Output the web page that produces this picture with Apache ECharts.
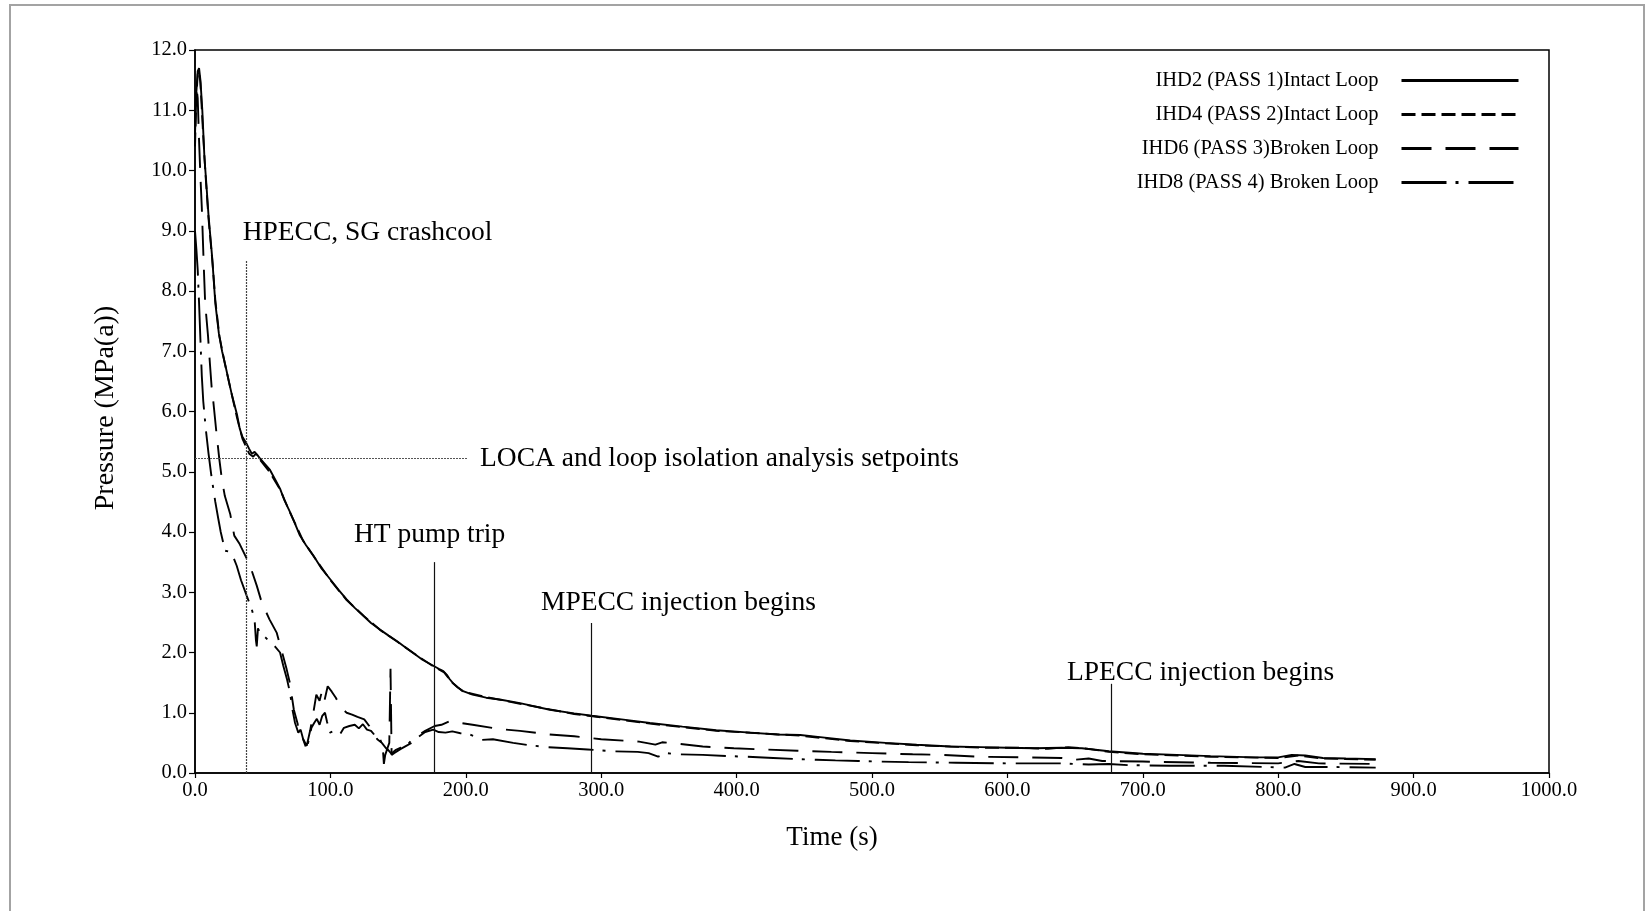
<!DOCTYPE html>
<html>
<head>
<meta charset="utf-8">
<script src="https://cdn.jsdelivr.net/npm/echarts/dist/echarts.min.js"></script>
<style>
  html, body { margin: 0; padding: 0; background: #ffffff; }
  #chart { width: 1647px; height: 911px; }
</style>
</head>
<body>
<div id="chart"></div>
<script>
// Header pressure transients, [time (s), pressure (MPa(a))]
const ihd2 = [
  [0, 10.6], [1, 11.3], [2, 11.65], [3, 11.7], [4, 11.5], [5.4, 11.0], [7, 10.2], [8, 9.9],
  [10, 9.25], [12.7, 8.55], [15, 7.8], [17.6, 7.3], [20, 7.0], [22.5, 6.76], [25, 6.5],
  [27.4, 6.26], [31, 5.95], [33, 5.72], [35, 5.58], [38, 5.47], [40, 5.38], [42, 5.3],
  [44, 5.33], [46, 5.28], [48, 5.22], [52, 5.12], [55.4, 5.03], [59, 4.88], [62.8, 4.72],
  [66, 4.53], [70.2, 4.33], [74, 4.13], [77.5, 3.94], [82, 3.78], [87.4, 3.61], [93, 3.41],
  [99.7, 3.22], [106, 3.04], [112, 2.88], [118, 2.74], [124.3, 2.61], [130, 2.49],
  [136.6, 2.38], [143, 2.28], [149, 2.19], [155, 2.09], [161.2, 1.99], [168, 1.88],
  [176, 1.78], [180, 1.73], [183.4, 1.69], [186, 1.63], [188, 1.56], [191, 1.48],
  [194, 1.42], [198, 1.36], [205, 1.30], [215, 1.25], [225, 1.22], [240, 1.16],
  [262, 1.05], [280, 0.99], [293, 0.95], [315, 0.89], [336, 0.83], [360, 0.77],
  [385, 0.71], [410, 0.67], [430, 0.64], [447, 0.63], [460, 0.60], [484, 0.54],
  [510, 0.50], [533, 0.47], [558, 0.44], [580, 0.43], [600, 0.42], [620, 0.41],
  [640, 0.42], [655, 0.41], [675, 0.36], [700, 0.32], [725, 0.30], [750, 0.28],
  [783, 0.26], [800, 0.26], [810, 0.30], [820, 0.29], [833, 0.25], [850, 0.24], [872, 0.23]
];
const ihd4 = [
  [0, 10.4], [1, 11.2], [2, 11.6], [3, 11.65], [4, 11.45], [6, 10.6], [8, 9.85], [10, 9.2],
  [13, 8.45], [15, 7.85], [18, 7.25], [22, 6.8], [27, 6.3], [31, 5.9], [35, 5.55], [38, 5.4],
  [40, 5.3], [43, 5.25], [45, 5.3], [48, 5.2], [55, 5.0], [63, 4.7], [70, 4.33], [80, 3.85],
  [90, 3.52], [100, 3.2], [112, 2.87], [125, 2.6], [137, 2.37], [150, 2.17], [162, 1.98],
  [176, 1.77], [184, 1.67], [190, 1.5], [198, 1.35], [215, 1.26], [240, 1.15], [280, 0.98],
  [336, 0.82], [385, 0.70], [447, 0.62], [484, 0.53], [533, 0.46], [580, 0.42], [610, 0.42],
  [630, 0.40], [645, 0.43], [660, 0.40], [675, 0.35], [700, 0.31], [750, 0.27], [800, 0.25],
  [815, 0.29], [833, 0.24], [872, 0.22]
];
const ihd6 = [
  [0, 10.8], [1, 11.4], [2, 11.2], [3, 10.5], [4, 9.9], [5, 9.4], [6.5, 8.4], [7.5, 7.8],
  [9.6, 7.26], [11, 6.8], [12.3, 6.4], [13.5, 6.17], [16, 5.61], [18, 5.2], [19.7, 4.9],
  [22, 4.6], [26, 4.3], [29, 3.94], [33, 3.8], [38.2, 3.56], [42, 3.35], [45.6, 3.11],
  [49.3, 2.83], [55, 2.55], [60.3, 2.33], [64, 2.03], [67.7, 1.72], [70, 1.5], [73, 1.05],
  [76, 0.8], [79, 0.6], [82.5, 0.45], [85, 0.7], [87.4, 1.0], [89.6, 1.3], [92, 1.2],
  [94, 1.38], [95.8, 1.22], [98, 1.44], [101, 1.35], [104, 1.25], [108, 1.08], [112, 1.0],
  [116, 0.97], [120, 0.93], [125, 0.89], [128, 0.8], [131, 0.72], [134.6, 0.56], [138, 0.5],
  [141.8, 0.39], [143.5, 0.5], [144.4, 1.73], [145.2, 0.3], [147, 0.33], [152, 0.4],
  [156, 0.45], [160, 0.5], [165, 0.63], [170, 0.7], [177, 0.78], [182, 0.8], [188, 0.86],
  [205, 0.80], [225, 0.73], [240, 0.70], [262, 0.64], [280, 0.61], [300, 0.56], [328, 0.52],
  [340, 0.47], [345, 0.51], [355, 0.49], [375, 0.44], [398, 0.41], [420, 0.39], [445, 0.37],
  [470, 0.35], [500, 0.33], [530, 0.31], [553, 0.30], [580, 0.27], [610, 0.26], [640, 0.25],
  [650, 0.22], [660, 0.24], [670, 0.20], [700, 0.19], [750, 0.17], [800, 0.16], [815, 0.20],
  [830, 0.16], [872, 0.15]
];
const ihd8 = [
  [0, 9.0], [1, 8.7], [2, 8.35], [3, 7.8], [4, 7.2], [5, 6.6], [6.1, 6.17], [8, 5.7],
  [10, 5.3], [12, 4.95], [13.5, 4.72], [15, 4.5], [17.2, 4.22], [19, 4.0], [22.2, 3.69],
  [25.8, 3.67], [28, 3.6], [30.8, 3.44], [34, 3.2], [38.2, 2.94], [41.9, 2.72], [44, 2.55],
  [45, 2.2], [45.6, 2.1], [46.5, 2.4], [48, 2.33], [52, 2.25], [55.4, 2.17], [59, 2.1],
  [62.8, 2.0], [65.2, 1.78], [68, 1.55], [70.2, 1.33], [72, 1.05], [73.9, 0.83], [76.3, 0.67],
  [78, 0.72], [80, 0.55], [82.5, 0.39], [84, 0.55], [86, 0.75], [88, 0.83], [90, 0.9],
  [92, 0.8], [94, 0.95], [96, 1.0], [97.5, 0.85], [99.7, 0.67], [103, 0.7], [107, 0.64],
  [110, 0.75], [114, 0.78], [118, 0.8], [121, 0.74], [124, 0.81], [127, 0.72], [130, 0.7],
  [133, 0.62], [136, 0.6], [138.6, 0.45], [139.5, 0.15], [140.5, 0.3], [142, 0.4],
  [145, 0.32], [148, 0.38], [152, 0.42], [156, 0.44], [160, 0.55], [165, 0.6], [170, 0.68],
  [176, 0.72], [180, 0.68], [185, 0.67], [190, 0.69], [196, 0.66], [203, 0.64], [212, 0.55],
  [220, 0.56], [235, 0.5], [247, 0.46], [260, 0.43], [275, 0.41], [290, 0.39], [310, 0.36],
  [327, 0.35], [335, 0.33], [342, 0.27], [348, 0.33], [356, 0.31], [375, 0.30], [395, 0.28],
  [407, 0.27], [427, 0.25], [445, 0.23], [459, 0.22], [473, 0.21], [490, 0.20], [505, 0.19],
  [527, 0.18], [562, 0.17], [600, 0.16], [640, 0.16], [660, 0.14], [675, 0.15], [690, 0.13],
  [720, 0.12], [760, 0.12], [790, 0.10], [805, 0.09], [812, 0.15], [820, 0.10], [840, 0.10],
  [872, 0.09]
];

const seriesNames = [
  'IHD2 (PASS 1)Intact Loop',
  'IHD4 (PASS 2)Intact Loop',
  'IHD6 (PASS 3)Broken Loop',
  'IHD8 (PASS 4) Broken Loop'
];

// Event markers: vertical lines [time, top pressure] and the setpoint line
const eventLines = [[37.5, 8.5], [176.4, 3.5], [292.8, 2.49], [676.5, 1.48]];
const setpointLine = [[0, 5.22], [201, 5.22]];

// Annotation texts anchored at [time, pressure] (left edge, vertical middle)
const annotationText = [
  'HPECC, SG crashcool',
  'LOCA and loop isolation analysis setpoints',
  'HT pump trip',
  'MPECC injection begins',
  'LPECC injection begins'
];
const annotationAt = [[35.2, 8.96], [210.5, 5.22], [117.4, 3.96], [255.5, 2.83], [644, 1.66]];

const xMax = 1000, xStep = 100, yMax = 12, yStep = 1;

const serif = '"Liberation Serif", "DejaVu Serif", serif';
const chart = echarts.init(document.getElementById('chart'), null, { renderer: 'canvas' });

const lineTypes = ['solid', [14, 6], [30, 14], [45, 9, 3, 10]];
const seriesData = [ihd2, ihd4, ihd6, ihd8];

const lineSeries = seriesNames.map((name, i) => ({
  name: name,
  type: 'line',
  data: seriesData[i],
  symbol: 'none',
  smooth: false,
  z: 4 - i,
  color: '#000',
  itemStyle: { color: '#000' },
  lineStyle: { color: '#000', width: 1.9, type: lineTypes[i] }
}));

const annotationSeries = {
  name: 'events',
  type: 'scatter',
  symbolSize: 0,
  silent: true,
  itemStyle: { opacity: 1, color: '#000' },
  data: annotationAt.map((p, i) => ({ value: p, name: annotationText[i] })),
  label: {
    show: true,
    position: 'right',
    distance: 0,
    formatter: (p) => p.name,
    color: '#000',
    opacity: 1,
    fontFamily: serif,
    fontSize: 27.5
  },
  markLine: {
    silent: true,
    symbol: ['none', 'none'],
    label: { show: false },
    data: eventLines.map((e, i) => [
      { coord: [e[0], 0], lineStyle: { color: i === 0 ? '#444' : '#111', width: 1.2, type: i === 0 ? [2, 1] : 'solid' } },
      { coord: [e[0], e[1]] }
    ]).concat([[
      { coord: setpointLine[0], lineStyle: { color: '#555', width: 1.1, type: [2, 1] } },
      { coord: setpointLine[1] }
    ]])
  }
};

chart.setOption({
  animation: false,
  backgroundColor: '#ffffff',
  grid: {
    left: 195, right: 98, top: 50, bottom: 138,
    show: true, borderColor: '#000', borderWidth: 1.5,
    outerBoundsMode: 'none'
  },
  legend: {
    data: seriesNames,
    orient: 'vertical',
    align: 'right',
    right: 127,
    top: 70,
    padding: 0,
    itemWidth: 117,
    itemHeight: 14,
    itemGap: 13,
    selectedMode: false,
    itemStyle: { color: 'rgba(0,0,0,0)', borderWidth: 0, opacity: 0 },
    lineStyle: { width: 3, color: '#000' },
    textStyle: { color: '#000', fontFamily: serif, fontSize: 20.5, padding: [0, 18, 0, 0] }
  },
  xAxis: {
    type: 'value',
    min: 0, max: xMax, interval: xStep,
    axisLine: { show: true, lineStyle: { color: '#000', width: 1.5 } },
    axisTick: { show: true, length: 5, lineStyle: { color: '#000', width: 1.2 } },
    splitLine: { show: false },
    axisLabel: {
      color: '#000', fontFamily: serif, fontSize: 20.5, margin: 7,
      showMinLabel: true, showMaxLabel: true,
      formatter: (v) => v.toFixed(1)
    }
  },
  yAxis: {
    type: 'value',
    min: 0, max: yMax, interval: yStep,
    axisLine: { show: true, lineStyle: { color: '#000', width: 1.5 } },
    axisTick: { show: true, length: 6, lineStyle: { color: '#000', width: 1.2 } },
    splitLine: { show: false },
    axisLabel: {
      color: '#000', fontFamily: serif, fontSize: 20.5, margin: 8,
      showMinLabel: true, showMaxLabel: true,
      formatter: (v) => v.toFixed(1)
    }
  },
  graphic: [
    {
      type: 'rect', silent: true, z: -10,
      shape: { x: 10, y: 5, width: 1634, height: 930 },
      style: { fill: 'none', stroke: '#a3a3a3', lineWidth: 2 }
    },
    {
      type: 'text', silent: true,
      x: 832, y: 838,
      style: { text: 'Time (s)', fill: '#000', font: '27px ' + serif, textAlign: 'center', textVerticalAlign: 'middle' }
    },
    {
      type: 'text', silent: true,
      x: 106, y: 408, rotation: Math.PI / 2,
      style: { text: 'Pressure (MPa(a))', fill: '#000', font: '28px ' + serif, textAlign: 'center', textVerticalAlign: 'middle' }
    }
  ],
  series: lineSeries.concat([annotationSeries])
});
</script>
</body>
</html>
